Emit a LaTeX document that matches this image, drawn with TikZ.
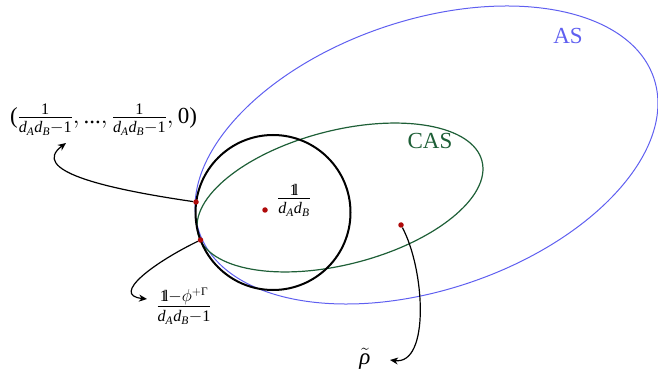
\documentclass[tikz,border=0pt]{standalone}
\usepackage{amsmath}
\usepackage{fontspec}
\setmainfont{Liberation Serif}
\IfFileExists{dsfont.sty}{\usepackage{dsfont}}{\newcommand\mathds[1]{\mathrm{1}\mkern-4mu\mathrm{l}}}
\usetikzlibrary{arrows.meta}
\definecolor{asblue}{RGB}{95,95,240}
\definecolor{casgreen}{RGB}{30,95,55}
\definecolor{dotred}{RGB}{175,10,10}
\newcommand\dAB{\textit{d}_{\textit{A}}\textit{d}_{\textit{B}}}
\newcommand\numr[1]{\text{#1}}
\tikzset{
  dotmark/.style={circle,fill=dotred,inner sep=0pt,minimum size=5.5pt},
  pointer/.style={line width=1.2pt,-{Stealth[length=8pt,width=7pt,inset=2.5pt]}},
  lbl/.style={inner sep=0pt,font=\fontsize{23}{27}\selectfont}
}
\begin{document}
\begin{tikzpicture}[x=1pt,y=1pt]
\useasboundingbox (0,0) rectangle (658,375);
% sets
\draw[asblue,line width=1pt] (426.5,220) ellipse[x radius=240,y radius=134.7,rotate=18.7];
\draw[casgreen,line width=1.2pt] (340,177.5) ellipse[x radius=146.6,y radius=67,rotate=14.4];
\draw[black,line width=2pt] (273,162.5) circle[radius=77.5];
% labels of sets
\node[lbl,text=asblue] (as) at (568,339) {AS};
\node[lbl,text=casgreen] (cas) at (430,234) {CAS};
% points
\node[dotmark] (p1) at (196,173) {};
\node[dotmark] (p2) at (200.5,135) {};
\node[dotmark] (pc) at (265,165) {};
\node[dotmark] (pr) at (401,150) {};
% point labels
\node[lbl,anchor=base] (tuple) at (103.5,251) {$\text{(}\frac{\numr{1}}{\dAB-\numr{1}},\text{...},\frac{\numr{1}}{\dAB-\numr{1}},\numr{0}\text{)}$};
\node[lbl,anchor=west] (lc) at (277,175) {$\frac{\mathds{1}}{\dAB}$};
\node[lbl] (lphi) at (184,69) {$\frac{\mathds{1}-\phi^{+\text{Γ}}}{\dAB-\numr{1}}$};
\node[lbl] (lrho) at (365,16) {$\tilde{\textit{ρ}}$};
% arrow ends
\coordinate (e1) at (66,232);
\coordinate (e2) at (147,76);
\coordinate (e3) at (390,15);
\draw[pointer] (p1) .. controls (100,187) and (30,205) .. (e1);
\draw[pointer] (p2) .. controls (155,113) and (110,80) .. (e2);
\draw[pointer] (pr) .. controls (425,105) and (430,10) .. (e3);
\end{tikzpicture}
\end{document}
